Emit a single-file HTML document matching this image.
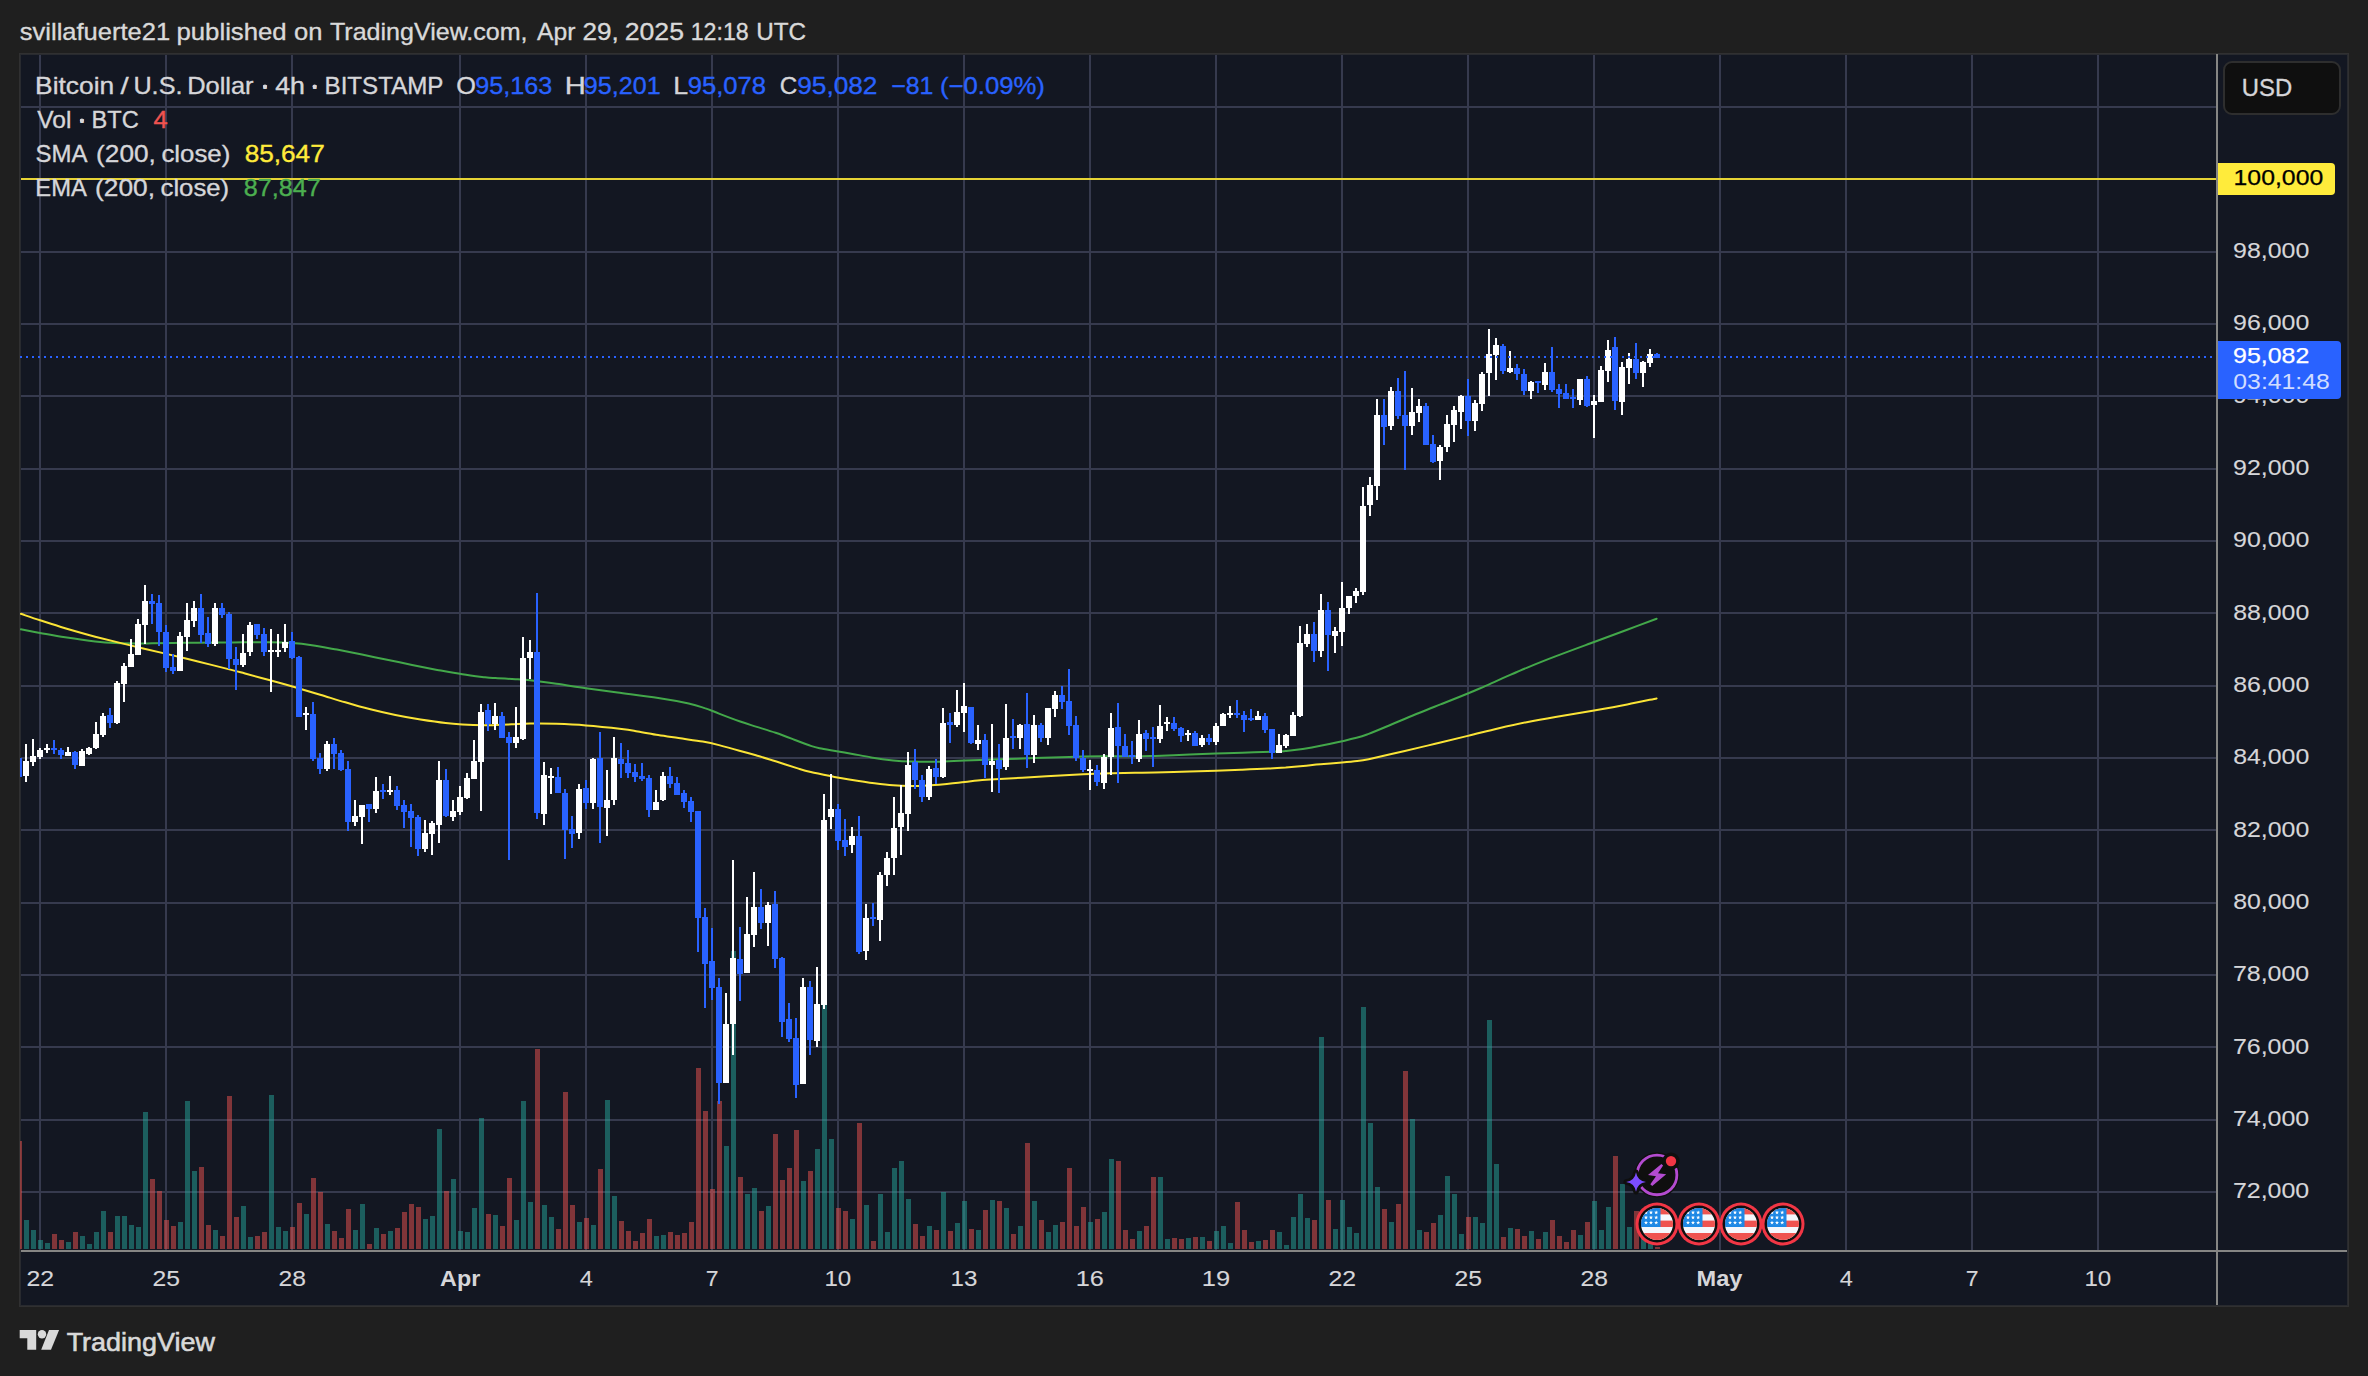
<!DOCTYPE html>
<html><head><meta charset="utf-8"><title>BTCUSD chart</title>
<style>html,body{margin:0;padding:0;background:#1f1f1f;}body{width:2368px;height:1376px;position:relative;overflow:hidden;font-family:"Liberation Sans",sans-serif}</style>
</head><body>
<svg width="2368" height="1376" viewBox="0 0 2368 1376" style="position:absolute;left:0;top:0" font-family="Liberation Sans, sans-serif">
<defs><clipPath id="cp"><rect x="20" y="55" width="2196" height="1195"/></clipPath>
<clipPath id="fc"><circle cx="0" cy="0" r="16"/></clipPath></defs>
<rect x="19.5" y="53.5" width="2329" height="1253" fill="#131722" stroke="#303031" stroke-width="1"/>
<rect x="20.5" y="54.5" width="2327" height="1251" fill="none" stroke="#282a2f" stroke-width="1"/>
<g fill="#363a4e" shape-rendering="crispEdges">
<rect x="39" y="55" width="2" height="1195"/>
<rect x="165" y="55" width="2" height="1195"/>
<rect x="291" y="55" width="2" height="1195"/>
<rect x="459" y="55" width="2" height="1195"/>
<rect x="585" y="55" width="2" height="1195"/>
<rect x="711" y="55" width="2" height="1195"/>
<rect x="837" y="55" width="2" height="1195"/>
<rect x="963" y="55" width="2" height="1195"/>
<rect x="1089" y="55" width="2" height="1195"/>
<rect x="1215" y="55" width="2" height="1195"/>
<rect x="1341" y="55" width="2" height="1195"/>
<rect x="1467" y="55" width="2" height="1195"/>
<rect x="1593" y="55" width="2" height="1195"/>
<rect x="1719" y="55" width="2" height="1195"/>
<rect x="1845" y="55" width="2" height="1195"/>
<rect x="1971" y="55" width="2" height="1195"/>
<rect x="2097" y="55" width="2" height="1195"/>
<rect x="21" y="106" width="2195" height="2"/>
<rect x="21" y="178" width="2195" height="2"/>
<rect x="21" y="251" width="2195" height="2"/>
<rect x="21" y="323" width="2195" height="2"/>
<rect x="21" y="395" width="2195" height="2"/>
<rect x="21" y="468" width="2195" height="2"/>
<rect x="21" y="540" width="2195" height="2"/>
<rect x="21" y="612" width="2195" height="2"/>
<rect x="21" y="685" width="2195" height="2"/>
<rect x="21" y="757" width="2195" height="2"/>
<rect x="21" y="829" width="2195" height="2"/>
<rect x="21" y="902" width="2195" height="2"/>
<rect x="21" y="974" width="2195" height="2"/>
<rect x="21" y="1046" width="2195" height="2"/>
<rect x="21" y="1119" width="2195" height="2"/>
<rect x="21" y="1191" width="2195" height="2"/>
</g>
<g clip-path="url(#cp)">
<g shape-rendering="crispEdges">
<rect x="17" y="1141" width="5" height="108" fill="rgba(239,83,80,0.5)"/>
<rect x="24" y="1220" width="5" height="29" fill="rgba(38,166,154,0.5)"/>
<rect x="31" y="1230" width="5" height="19" fill="rgba(38,166,154,0.5)"/>
<rect x="38" y="1240" width="5" height="9" fill="rgba(38,166,154,0.5)"/>
<rect x="45" y="1243" width="5" height="6" fill="rgba(38,166,154,0.5)"/>
<rect x="52" y="1234" width="5" height="15" fill="rgba(239,83,80,0.5)"/>
<rect x="59" y="1240" width="5" height="9" fill="rgba(239,83,80,0.5)"/>
<rect x="66" y="1242" width="5" height="7" fill="rgba(38,166,154,0.5)"/>
<rect x="73" y="1232" width="5" height="17" fill="rgba(239,83,80,0.5)"/>
<rect x="80" y="1236" width="5" height="13" fill="rgba(38,166,154,0.5)"/>
<rect x="87" y="1244" width="5" height="5" fill="rgba(38,166,154,0.5)"/>
<rect x="94" y="1232" width="5" height="17" fill="rgba(38,166,154,0.5)"/>
<rect x="101" y="1211" width="5" height="38" fill="rgba(38,166,154,0.5)"/>
<rect x="108" y="1232" width="5" height="17" fill="rgba(239,83,80,0.5)"/>
<rect x="115" y="1216" width="5" height="33" fill="rgba(38,166,154,0.5)"/>
<rect x="122" y="1216" width="5" height="33" fill="rgba(38,166,154,0.5)"/>
<rect x="129" y="1225" width="5" height="24" fill="rgba(38,166,154,0.5)"/>
<rect x="136" y="1227" width="5" height="22" fill="rgba(38,166,154,0.5)"/>
<rect x="143" y="1112" width="5" height="137" fill="rgba(38,166,154,0.5)"/>
<rect x="150" y="1179" width="5" height="70" fill="rgba(239,83,80,0.5)"/>
<rect x="157" y="1191" width="5" height="58" fill="rgba(239,83,80,0.5)"/>
<rect x="164" y="1220" width="5" height="29" fill="rgba(239,83,80,0.5)"/>
<rect x="171" y="1226" width="5" height="23" fill="rgba(239,83,80,0.5)"/>
<rect x="178" y="1222" width="5" height="27" fill="rgba(38,166,154,0.5)"/>
<rect x="185" y="1101" width="5" height="148" fill="rgba(38,166,154,0.5)"/>
<rect x="192" y="1171" width="5" height="78" fill="rgba(38,166,154,0.5)"/>
<rect x="199" y="1167" width="5" height="82" fill="rgba(239,83,80,0.5)"/>
<rect x="206" y="1225" width="5" height="24" fill="rgba(239,83,80,0.5)"/>
<rect x="213" y="1230" width="5" height="19" fill="rgba(38,166,154,0.5)"/>
<rect x="220" y="1236" width="5" height="13" fill="rgba(239,83,80,0.5)"/>
<rect x="227" y="1096" width="5" height="153" fill="rgba(239,83,80,0.5)"/>
<rect x="234" y="1217" width="5" height="32" fill="rgba(239,83,80,0.5)"/>
<rect x="241" y="1206" width="5" height="43" fill="rgba(38,166,154,0.5)"/>
<rect x="248" y="1237" width="5" height="12" fill="rgba(38,166,154,0.5)"/>
<rect x="255" y="1236" width="5" height="13" fill="rgba(239,83,80,0.5)"/>
<rect x="262" y="1232" width="5" height="17" fill="rgba(239,83,80,0.5)"/>
<rect x="269" y="1095" width="5" height="154" fill="rgba(38,166,154,0.5)"/>
<rect x="276" y="1227" width="5" height="22" fill="rgba(38,166,154,0.5)"/>
<rect x="283" y="1231" width="5" height="18" fill="rgba(38,166,154,0.5)"/>
<rect x="290" y="1227" width="5" height="22" fill="rgba(239,83,80,0.5)"/>
<rect x="297" y="1203" width="5" height="46" fill="rgba(239,83,80,0.5)"/>
<rect x="304" y="1214" width="5" height="35" fill="rgba(38,166,154,0.5)"/>
<rect x="311" y="1178" width="5" height="71" fill="rgba(239,83,80,0.5)"/>
<rect x="318" y="1192" width="5" height="57" fill="rgba(239,83,80,0.5)"/>
<rect x="325" y="1224" width="5" height="25" fill="rgba(38,166,154,0.5)"/>
<rect x="332" y="1231" width="5" height="18" fill="rgba(239,83,80,0.5)"/>
<rect x="339" y="1238" width="5" height="11" fill="rgba(239,83,80,0.5)"/>
<rect x="346" y="1209" width="5" height="40" fill="rgba(239,83,80,0.5)"/>
<rect x="353" y="1230" width="5" height="19" fill="rgba(38,166,154,0.5)"/>
<rect x="360" y="1204" width="5" height="45" fill="rgba(38,166,154,0.5)"/>
<rect x="367" y="1244" width="5" height="5" fill="rgba(239,83,80,0.5)"/>
<rect x="374" y="1228" width="5" height="21" fill="rgba(38,166,154,0.5)"/>
<rect x="381" y="1234" width="5" height="15" fill="rgba(239,83,80,0.5)"/>
<rect x="388" y="1231" width="5" height="18" fill="rgba(38,166,154,0.5)"/>
<rect x="395" y="1228" width="5" height="21" fill="rgba(239,83,80,0.5)"/>
<rect x="402" y="1212" width="5" height="37" fill="rgba(239,83,80,0.5)"/>
<rect x="409" y="1204" width="5" height="45" fill="rgba(239,83,80,0.5)"/>
<rect x="416" y="1207" width="5" height="42" fill="rgba(239,83,80,0.5)"/>
<rect x="423" y="1219" width="5" height="30" fill="rgba(38,166,154,0.5)"/>
<rect x="430" y="1216" width="5" height="33" fill="rgba(38,166,154,0.5)"/>
<rect x="437" y="1129" width="5" height="120" fill="rgba(38,166,154,0.5)"/>
<rect x="444" y="1191" width="5" height="58" fill="rgba(239,83,80,0.5)"/>
<rect x="451" y="1179" width="5" height="70" fill="rgba(38,166,154,0.5)"/>
<rect x="458" y="1231" width="5" height="18" fill="rgba(38,166,154,0.5)"/>
<rect x="465" y="1232" width="5" height="17" fill="rgba(38,166,154,0.5)"/>
<rect x="472" y="1208" width="5" height="41" fill="rgba(38,166,154,0.5)"/>
<rect x="479" y="1118" width="5" height="131" fill="rgba(38,166,154,0.5)"/>
<rect x="486" y="1214" width="5" height="35" fill="rgba(239,83,80,0.5)"/>
<rect x="493" y="1215" width="5" height="34" fill="rgba(38,166,154,0.5)"/>
<rect x="500" y="1226" width="5" height="23" fill="rgba(239,83,80,0.5)"/>
<rect x="507" y="1178" width="5" height="71" fill="rgba(239,83,80,0.5)"/>
<rect x="514" y="1220" width="5" height="29" fill="rgba(38,166,154,0.5)"/>
<rect x="521" y="1101" width="5" height="148" fill="rgba(38,166,154,0.5)"/>
<rect x="528" y="1202" width="5" height="47" fill="rgba(38,166,154,0.5)"/>
<rect x="535" y="1049" width="5" height="200" fill="rgba(239,83,80,0.5)"/>
<rect x="542" y="1205" width="5" height="44" fill="rgba(38,166,154,0.5)"/>
<rect x="549" y="1217" width="5" height="32" fill="rgba(38,166,154,0.5)"/>
<rect x="556" y="1229" width="5" height="20" fill="rgba(239,83,80,0.5)"/>
<rect x="563" y="1092" width="5" height="157" fill="rgba(239,83,80,0.5)"/>
<rect x="570" y="1205" width="5" height="44" fill="rgba(239,83,80,0.5)"/>
<rect x="577" y="1222" width="5" height="27" fill="rgba(38,166,154,0.5)"/>
<rect x="584" y="1218" width="5" height="31" fill="rgba(239,83,80,0.5)"/>
<rect x="591" y="1225" width="5" height="24" fill="rgba(38,166,154,0.5)"/>
<rect x="598" y="1169" width="5" height="80" fill="rgba(239,83,80,0.5)"/>
<rect x="605" y="1100" width="5" height="149" fill="rgba(38,166,154,0.5)"/>
<rect x="612" y="1196" width="5" height="53" fill="rgba(38,166,154,0.5)"/>
<rect x="619" y="1221" width="5" height="28" fill="rgba(239,83,80,0.5)"/>
<rect x="626" y="1231" width="5" height="18" fill="rgba(239,83,80,0.5)"/>
<rect x="633" y="1241" width="5" height="8" fill="rgba(239,83,80,0.5)"/>
<rect x="640" y="1233" width="5" height="16" fill="rgba(239,83,80,0.5)"/>
<rect x="647" y="1219" width="5" height="30" fill="rgba(239,83,80,0.5)"/>
<rect x="654" y="1236" width="5" height="13" fill="rgba(38,166,154,0.5)"/>
<rect x="661" y="1235" width="5" height="14" fill="rgba(38,166,154,0.5)"/>
<rect x="668" y="1232" width="5" height="17" fill="rgba(239,83,80,0.5)"/>
<rect x="675" y="1235" width="5" height="14" fill="rgba(239,83,80,0.5)"/>
<rect x="682" y="1233" width="5" height="16" fill="rgba(239,83,80,0.5)"/>
<rect x="689" y="1222" width="5" height="27" fill="rgba(239,83,80,0.5)"/>
<rect x="696" y="1068" width="5" height="181" fill="rgba(239,83,80,0.5)"/>
<rect x="703" y="1111" width="5" height="138" fill="rgba(239,83,80,0.5)"/>
<rect x="710" y="1189" width="5" height="60" fill="rgba(239,83,80,0.5)"/>
<rect x="717" y="1101" width="5" height="148" fill="rgba(239,83,80,0.5)"/>
<rect x="724" y="1146" width="5" height="103" fill="rgba(38,166,154,0.5)"/>
<rect x="731" y="951" width="5" height="298" fill="rgba(38,166,154,0.5)"/>
<rect x="738" y="1177" width="5" height="72" fill="rgba(239,83,80,0.5)"/>
<rect x="745" y="1194" width="5" height="55" fill="rgba(38,166,154,0.5)"/>
<rect x="752" y="1188" width="5" height="61" fill="rgba(38,166,154,0.5)"/>
<rect x="759" y="1211" width="5" height="38" fill="rgba(239,83,80,0.5)"/>
<rect x="766" y="1206" width="5" height="43" fill="rgba(38,166,154,0.5)"/>
<rect x="773" y="1134" width="5" height="115" fill="rgba(239,83,80,0.5)"/>
<rect x="780" y="1180" width="5" height="69" fill="rgba(239,83,80,0.5)"/>
<rect x="787" y="1168" width="5" height="81" fill="rgba(239,83,80,0.5)"/>
<rect x="794" y="1130" width="5" height="119" fill="rgba(239,83,80,0.5)"/>
<rect x="801" y="1181" width="5" height="68" fill="rgba(38,166,154,0.5)"/>
<rect x="808" y="1171" width="5" height="78" fill="rgba(239,83,80,0.5)"/>
<rect x="815" y="1149" width="5" height="100" fill="rgba(38,166,154,0.5)"/>
<rect x="822" y="1005" width="5" height="244" fill="rgba(38,166,154,0.5)"/>
<rect x="829" y="1139" width="5" height="110" fill="rgba(38,166,154,0.5)"/>
<rect x="836" y="1208" width="5" height="41" fill="rgba(239,83,80,0.5)"/>
<rect x="843" y="1211" width="5" height="38" fill="rgba(239,83,80,0.5)"/>
<rect x="850" y="1219" width="5" height="30" fill="rgba(38,166,154,0.5)"/>
<rect x="857" y="1123" width="5" height="126" fill="rgba(239,83,80,0.5)"/>
<rect x="864" y="1205" width="5" height="44" fill="rgba(38,166,154,0.5)"/>
<rect x="871" y="1241" width="5" height="8" fill="rgba(239,83,80,0.5)"/>
<rect x="878" y="1194" width="5" height="55" fill="rgba(38,166,154,0.5)"/>
<rect x="885" y="1232" width="5" height="17" fill="rgba(38,166,154,0.5)"/>
<rect x="892" y="1168" width="5" height="81" fill="rgba(38,166,154,0.5)"/>
<rect x="899" y="1161" width="5" height="88" fill="rgba(38,166,154,0.5)"/>
<rect x="906" y="1199" width="5" height="50" fill="rgba(38,166,154,0.5)"/>
<rect x="913" y="1224" width="5" height="25" fill="rgba(239,83,80,0.5)"/>
<rect x="920" y="1236" width="5" height="13" fill="rgba(239,83,80,0.5)"/>
<rect x="927" y="1226" width="5" height="23" fill="rgba(38,166,154,0.5)"/>
<rect x="934" y="1230" width="5" height="19" fill="rgba(239,83,80,0.5)"/>
<rect x="941" y="1192" width="5" height="57" fill="rgba(38,166,154,0.5)"/>
<rect x="948" y="1231" width="5" height="18" fill="rgba(239,83,80,0.5)"/>
<rect x="955" y="1223" width="5" height="26" fill="rgba(38,166,154,0.5)"/>
<rect x="962" y="1201" width="5" height="48" fill="rgba(38,166,154,0.5)"/>
<rect x="969" y="1229" width="5" height="20" fill="rgba(239,83,80,0.5)"/>
<rect x="976" y="1230" width="5" height="19" fill="rgba(38,166,154,0.5)"/>
<rect x="983" y="1210" width="5" height="39" fill="rgba(239,83,80,0.5)"/>
<rect x="990" y="1200" width="5" height="49" fill="rgba(38,166,154,0.5)"/>
<rect x="997" y="1201" width="5" height="48" fill="rgba(239,83,80,0.5)"/>
<rect x="1004" y="1208" width="5" height="41" fill="rgba(38,166,154,0.5)"/>
<rect x="1011" y="1234" width="5" height="15" fill="rgba(239,83,80,0.5)"/>
<rect x="1018" y="1226" width="5" height="23" fill="rgba(38,166,154,0.5)"/>
<rect x="1025" y="1143" width="5" height="106" fill="rgba(239,83,80,0.5)"/>
<rect x="1032" y="1201" width="5" height="48" fill="rgba(38,166,154,0.5)"/>
<rect x="1039" y="1220" width="5" height="29" fill="rgba(239,83,80,0.5)"/>
<rect x="1046" y="1232" width="5" height="17" fill="rgba(38,166,154,0.5)"/>
<rect x="1053" y="1225" width="5" height="24" fill="rgba(38,166,154,0.5)"/>
<rect x="1060" y="1222" width="5" height="27" fill="rgba(239,83,80,0.5)"/>
<rect x="1067" y="1168" width="5" height="81" fill="rgba(239,83,80,0.5)"/>
<rect x="1074" y="1226" width="5" height="23" fill="rgba(239,83,80,0.5)"/>
<rect x="1081" y="1207" width="5" height="42" fill="rgba(239,83,80,0.5)"/>
<rect x="1088" y="1222" width="5" height="27" fill="rgba(38,166,154,0.5)"/>
<rect x="1095" y="1219" width="5" height="30" fill="rgba(239,83,80,0.5)"/>
<rect x="1102" y="1212" width="5" height="37" fill="rgba(38,166,154,0.5)"/>
<rect x="1109" y="1159" width="5" height="90" fill="rgba(38,166,154,0.5)"/>
<rect x="1116" y="1161" width="5" height="88" fill="rgba(239,83,80,0.5)"/>
<rect x="1123" y="1230" width="5" height="19" fill="rgba(239,83,80,0.5)"/>
<rect x="1130" y="1239" width="5" height="10" fill="rgba(239,83,80,0.5)"/>
<rect x="1137" y="1231" width="5" height="18" fill="rgba(38,166,154,0.5)"/>
<rect x="1144" y="1226" width="5" height="23" fill="rgba(239,83,80,0.5)"/>
<rect x="1151" y="1177" width="5" height="72" fill="rgba(239,83,80,0.5)"/>
<rect x="1158" y="1177" width="5" height="72" fill="rgba(38,166,154,0.5)"/>
<rect x="1165" y="1239" width="5" height="10" fill="rgba(38,166,154,0.5)"/>
<rect x="1172" y="1238" width="5" height="11" fill="rgba(239,83,80,0.5)"/>
<rect x="1179" y="1239" width="5" height="10" fill="rgba(239,83,80,0.5)"/>
<rect x="1186" y="1238" width="5" height="11" fill="rgba(38,166,154,0.5)"/>
<rect x="1193" y="1237" width="5" height="12" fill="rgba(239,83,80,0.5)"/>
<rect x="1200" y="1237" width="5" height="12" fill="rgba(38,166,154,0.5)"/>
<rect x="1207" y="1241" width="5" height="8" fill="rgba(239,83,80,0.5)"/>
<rect x="1214" y="1231" width="5" height="18" fill="rgba(38,166,154,0.5)"/>
<rect x="1221" y="1226" width="5" height="23" fill="rgba(38,166,154,0.5)"/>
<rect x="1228" y="1243" width="5" height="6" fill="rgba(38,166,154,0.5)"/>
<rect x="1235" y="1202" width="5" height="47" fill="rgba(239,83,80,0.5)"/>
<rect x="1242" y="1230" width="5" height="19" fill="rgba(239,83,80,0.5)"/>
<rect x="1249" y="1242" width="5" height="7" fill="rgba(239,83,80,0.5)"/>
<rect x="1256" y="1241" width="5" height="8" fill="rgba(38,166,154,0.5)"/>
<rect x="1263" y="1240" width="5" height="9" fill="rgba(239,83,80,0.5)"/>
<rect x="1270" y="1230" width="5" height="19" fill="rgba(239,83,80,0.5)"/>
<rect x="1277" y="1232" width="5" height="17" fill="rgba(38,166,154,0.5)"/>
<rect x="1284" y="1245" width="5" height="4" fill="rgba(38,166,154,0.5)"/>
<rect x="1291" y="1217" width="5" height="32" fill="rgba(38,166,154,0.5)"/>
<rect x="1298" y="1194" width="5" height="55" fill="rgba(38,166,154,0.5)"/>
<rect x="1305" y="1218" width="5" height="31" fill="rgba(38,166,154,0.5)"/>
<rect x="1312" y="1220" width="5" height="29" fill="rgba(239,83,80,0.5)"/>
<rect x="1319" y="1037" width="5" height="212" fill="rgba(38,166,154,0.5)"/>
<rect x="1326" y="1200" width="5" height="49" fill="rgba(239,83,80,0.5)"/>
<rect x="1333" y="1229" width="5" height="20" fill="rgba(38,166,154,0.5)"/>
<rect x="1340" y="1200" width="5" height="49" fill="rgba(38,166,154,0.5)"/>
<rect x="1347" y="1227" width="5" height="22" fill="rgba(38,166,154,0.5)"/>
<rect x="1354" y="1233" width="5" height="16" fill="rgba(38,166,154,0.5)"/>
<rect x="1361" y="1007" width="5" height="242" fill="rgba(38,166,154,0.5)"/>
<rect x="1368" y="1123" width="5" height="126" fill="rgba(38,166,154,0.5)"/>
<rect x="1375" y="1187" width="5" height="62" fill="rgba(38,166,154,0.5)"/>
<rect x="1382" y="1209" width="5" height="40" fill="rgba(239,83,80,0.5)"/>
<rect x="1389" y="1222" width="5" height="27" fill="rgba(38,166,154,0.5)"/>
<rect x="1396" y="1204" width="5" height="45" fill="rgba(239,83,80,0.5)"/>
<rect x="1403" y="1071" width="5" height="178" fill="rgba(239,83,80,0.5)"/>
<rect x="1410" y="1119" width="5" height="130" fill="rgba(38,166,154,0.5)"/>
<rect x="1417" y="1230" width="5" height="19" fill="rgba(38,166,154,0.5)"/>
<rect x="1424" y="1232" width="5" height="17" fill="rgba(239,83,80,0.5)"/>
<rect x="1431" y="1223" width="5" height="26" fill="rgba(239,83,80,0.5)"/>
<rect x="1438" y="1215" width="5" height="34" fill="rgba(38,166,154,0.5)"/>
<rect x="1445" y="1176" width="5" height="73" fill="rgba(38,166,154,0.5)"/>
<rect x="1452" y="1194" width="5" height="55" fill="rgba(38,166,154,0.5)"/>
<rect x="1459" y="1234" width="5" height="15" fill="rgba(38,166,154,0.5)"/>
<rect x="1466" y="1217" width="5" height="32" fill="rgba(239,83,80,0.5)"/>
<rect x="1473" y="1217" width="5" height="32" fill="rgba(38,166,154,0.5)"/>
<rect x="1480" y="1223" width="5" height="26" fill="rgba(38,166,154,0.5)"/>
<rect x="1487" y="1020" width="5" height="229" fill="rgba(38,166,154,0.5)"/>
<rect x="1494" y="1164" width="5" height="85" fill="rgba(38,166,154,0.5)"/>
<rect x="1501" y="1237" width="5" height="12" fill="rgba(239,83,80,0.5)"/>
<rect x="1508" y="1228" width="5" height="21" fill="rgba(38,166,154,0.5)"/>
<rect x="1515" y="1229" width="5" height="20" fill="rgba(239,83,80,0.5)"/>
<rect x="1522" y="1236" width="5" height="13" fill="rgba(239,83,80,0.5)"/>
<rect x="1529" y="1231" width="5" height="18" fill="rgba(38,166,154,0.5)"/>
<rect x="1536" y="1239" width="5" height="10" fill="rgba(239,83,80,0.5)"/>
<rect x="1543" y="1232" width="5" height="17" fill="rgba(38,166,154,0.5)"/>
<rect x="1550" y="1220" width="5" height="29" fill="rgba(239,83,80,0.5)"/>
<rect x="1557" y="1236" width="5" height="13" fill="rgba(239,83,80,0.5)"/>
<rect x="1564" y="1242" width="5" height="7" fill="rgba(239,83,80,0.5)"/>
<rect x="1571" y="1230" width="5" height="19" fill="rgba(239,83,80,0.5)"/>
<rect x="1578" y="1235" width="5" height="14" fill="rgba(38,166,154,0.5)"/>
<rect x="1585" y="1222" width="5" height="27" fill="rgba(239,83,80,0.5)"/>
<rect x="1592" y="1201" width="5" height="48" fill="rgba(38,166,154,0.5)"/>
<rect x="1599" y="1230" width="5" height="19" fill="rgba(38,166,154,0.5)"/>
<rect x="1606" y="1207" width="5" height="42" fill="rgba(38,166,154,0.5)"/>
<rect x="1613" y="1156" width="5" height="93" fill="rgba(239,83,80,0.5)"/>
<rect x="1620" y="1184" width="5" height="65" fill="rgba(38,166,154,0.5)"/>
<rect x="1627" y="1227" width="5" height="22" fill="rgba(38,166,154,0.5)"/>
<rect x="1634" y="1211" width="5" height="38" fill="rgba(239,83,80,0.5)"/>
<rect x="1641" y="1229" width="5" height="20" fill="rgba(38,166,154,0.5)"/>
<rect x="1648" y="1235" width="5" height="14" fill="rgba(38,166,154,0.5)"/>
<rect x="1655" y="1247" width="5" height="2" fill="rgba(239,83,80,0.5)"/>
</g>
<rect x="21" y="178" width="2195" height="2" fill="#e6d335" shape-rendering="crispEdges"/>
<path d="M20.8,629.3C24.1,629.9 32.7,631.6 40.1,633.0C47.5,634.3 55.9,635.9 65.1,637.3C74.3,638.7 86.9,640.5 95.2,641.4C103.6,642.4 107.8,642.7 115.3,643.0C122.8,643.3 134.2,643.4 140.4,643.4C146.5,643.5 145.1,643.4 152.1,643.3C159.0,643.2 171.6,642.9 182.1,642.8C192.7,642.7 205.5,642.6 215.6,642.5C225.7,642.4 233.7,642.4 242.8,642.3C251.9,642.3 261.8,642.2 270.1,642.3C278.3,642.4 285.3,642.6 292.3,643.1C299.3,643.6 304.4,644.2 311.9,645.3C319.3,646.3 328.6,648.1 336.9,649.6C345.3,651.2 353.6,652.9 362.0,654.6C370.4,656.3 378.7,658.0 387.1,659.7C395.4,661.4 403.8,663.2 412.1,664.9C420.5,666.6 428.9,668.3 437.2,669.9C445.6,671.4 454.3,673.0 462.3,674.2C470.2,675.5 479.5,676.6 485.0,677.3C490.5,677.9 489.9,677.8 495.4,678.1C500.8,678.5 512.0,679.0 517.7,679.3C523.5,679.7 523.5,679.6 530.0,680.3C536.4,681.1 547.1,682.5 556.4,683.8C565.8,685.1 575.8,686.8 585.9,688.2C596.1,689.7 605.4,690.9 617.5,692.6C629.5,694.2 646.3,696.2 658.2,698.0C670.1,699.8 681.0,701.8 688.7,703.4C696.5,705.1 699.7,706.4 704.7,708.1C709.8,709.7 713.2,711.4 719.0,713.6C724.7,715.8 733.3,719.1 739.4,721.3C745.6,723.5 749.8,724.7 755.9,726.6C761.9,728.5 769.2,730.6 775.6,732.8C782.0,735.0 788.5,737.5 794.3,739.7C800.2,741.9 806.6,744.5 810.8,745.9C815.0,747.3 815.0,747.3 819.6,748.2C824.1,749.2 832.7,750.4 838.2,751.4C843.7,752.3 847.0,752.9 852.5,753.9C858.0,754.9 864.4,756.3 871.2,757.4C877.9,758.5 886.5,759.7 893.1,760.4C899.8,761.1 904.8,761.4 911.0,761.6C917.3,761.8 924.4,761.8 930.7,761.8C937.0,761.7 943.0,761.4 948.7,761.2C954.3,761.0 956.3,760.9 964.8,760.6C973.3,760.2 988.0,759.7 999.7,759.3C1011.3,758.9 1022.9,758.5 1034.5,758.1C1046.2,757.7 1057.8,757.2 1069.4,756.9C1081.0,756.6 1093.4,756.4 1104.3,756.3C1115.2,756.2 1126.6,756.3 1135.0,756.2C1143.4,756.2 1145.8,756.1 1154.9,755.9C1164.0,755.6 1179.6,755.0 1189.8,754.6C1199.9,754.3 1207.2,754.0 1215.9,753.6C1224.7,753.3 1232.8,753.0 1242.1,752.7C1251.4,752.4 1264.5,752.0 1271.7,751.7C1279.0,751.4 1281.9,751.3 1285.7,751.0C1289.5,750.8 1290.1,750.8 1294.4,750.1C1298.8,749.5 1306.0,748.4 1311.9,747.4C1317.7,746.4 1321.9,745.7 1329.3,744.1C1336.7,742.5 1349.9,739.5 1356.5,737.8C1363.1,736.1 1363.1,736.0 1368.7,733.9C1374.3,731.7 1381.9,728.5 1390.3,725.0C1398.6,721.6 1410.6,716.4 1419.0,713.0C1427.3,709.5 1432.4,707.6 1440.5,704.4C1448.6,701.2 1460.6,696.5 1467.8,693.5C1475.0,690.6 1477.8,689.3 1483.6,686.8C1489.3,684.3 1495.1,681.6 1502.2,678.4C1509.4,675.3 1517.8,671.5 1526.7,667.8C1535.5,664.2 1544.1,660.7 1555.4,656.4C1566.6,652.1 1582.2,646.4 1594.1,642.0C1606.1,637.6 1616.8,633.7 1627.2,629.8C1637.6,625.9 1651.7,620.5 1656.6,618.7" fill="none" stroke="#43a84a" stroke-width="2" stroke-linecap="round" stroke-linejoin="round"/>
<path d="M20.8,613.8C24.1,614.9 32.7,617.9 40.1,620.3C47.5,622.7 55.9,625.5 65.1,628.2C74.3,630.9 84.4,633.8 95.2,636.7C106.1,639.5 118.5,642.5 130.3,645.4C142.2,648.3 155.0,651.2 166.4,653.9C177.9,656.6 187.9,659.0 198.9,661.7C209.8,664.4 224.6,668.2 232.3,670.1C240.0,672.1 238.7,671.8 245.0,673.5C251.3,675.2 261.7,678.0 270.1,680.3C278.4,682.6 286.8,684.9 295.1,687.3C303.5,689.7 311.9,692.2 320.2,694.7C328.6,697.2 336.9,699.9 345.3,702.3C353.6,704.8 362.0,707.2 370.4,709.3C378.7,711.4 387.1,713.3 395.4,715.0C403.8,716.7 412.1,718.2 420.5,719.6C428.9,720.9 438.6,722.3 445.6,723.1C452.5,723.9 455.7,724.1 462.3,724.5C468.9,724.8 479.5,725.1 485.0,725.2C490.5,725.3 490.9,725.2 495.4,725.1C499.8,724.9 505.9,724.6 511.6,724.3C517.4,724.1 522.5,723.7 530.0,723.6C537.4,723.5 547.1,723.5 556.4,723.8C565.8,724.1 575.1,724.5 585.9,725.4C596.8,726.2 612.9,727.9 621.6,728.9C630.2,729.9 631.7,730.4 637.8,731.5C644.0,732.5 651.4,734.0 658.2,735.1C665.0,736.2 671.1,737.0 678.6,738.1C686.0,739.2 696.0,740.5 702.7,741.6C709.4,742.8 712.9,743.6 719.0,745.1C725.1,746.6 733.3,748.9 739.4,750.7C745.6,752.4 749.8,753.6 755.9,755.3C761.9,757.1 768.7,759.1 775.6,761.3C782.6,763.5 791.9,766.6 797.7,768.4C803.6,770.2 804.7,770.6 810.8,772.0C816.9,773.4 828.0,775.6 834.4,776.9C840.8,778.1 842.5,778.4 849.2,779.4C855.9,780.5 867.1,782.3 874.5,783.2C881.8,784.2 887.3,784.9 893.1,785.3C898.9,785.7 903.4,785.9 909.2,785.9C915.0,785.9 921.4,785.7 928.0,785.4C934.5,785.0 942.5,784.3 948.7,783.8C954.8,783.2 959.2,782.6 964.8,782.0C970.4,781.4 976.4,780.6 982.2,780.1C988.0,779.6 990.9,779.4 999.7,778.9C1008.4,778.4 1022.9,777.6 1034.5,777.0C1046.2,776.3 1060.1,775.5 1069.4,775.0C1078.7,774.5 1083.1,774.3 1090.3,773.9C1097.6,773.6 1105.6,773.4 1113.0,773.2C1120.5,773.0 1128.0,772.9 1135.0,772.8C1142.0,772.7 1145.8,772.7 1154.9,772.5C1164.0,772.3 1179.6,771.8 1189.8,771.5C1199.9,771.2 1207.2,771.0 1215.9,770.7C1224.7,770.4 1233.4,770.1 1242.1,769.7C1250.8,769.4 1261.0,769.0 1268.3,768.6C1275.5,768.2 1279.9,767.9 1285.7,767.5C1291.5,767.0 1297.3,766.4 1303.1,765.9C1309.0,765.4 1314.1,764.8 1320.6,764.3C1327.1,763.7 1335.9,763.0 1342.0,762.5C1348.1,762.0 1352.7,761.6 1357.2,761.0C1361.6,760.5 1363.2,760.3 1368.7,759.2C1374.2,758.0 1381.9,756.3 1390.3,754.3C1398.6,752.4 1410.6,749.5 1419.0,747.6C1427.3,745.6 1432.4,744.5 1440.5,742.5C1448.6,740.6 1458.2,738.3 1467.8,735.9C1477.4,733.6 1488.1,730.8 1497.9,728.5C1507.8,726.2 1517.1,724.1 1526.7,722.2C1536.2,720.3 1544.1,718.9 1555.4,717.0C1566.6,715.0 1582.2,712.6 1594.1,710.5C1606.1,708.4 1616.8,706.5 1627.2,704.5C1637.6,702.5 1651.7,699.4 1656.6,698.4" fill="none" stroke="#fbe436" stroke-width="2" stroke-linecap="round" stroke-linejoin="round"/>
<g fill="#2962ff" shape-rendering="crispEdges"><rect x="53" y="740" width="2" height="14"/><rect x="51" y="748" width="6" height="2"/><rect x="60" y="748" width="2" height="11"/><rect x="58" y="750" width="6" height="5"/><rect x="74" y="751" width="2" height="18"/><rect x="72" y="752" width="6" height="13"/><rect x="109" y="708" width="2" height="20"/><rect x="107" y="715" width="6" height="8"/><rect x="151" y="594" width="2" height="30"/><rect x="149" y="601" width="6" height="3"/><rect x="158" y="595" width="2" height="51"/><rect x="156" y="603" width="6" height="29"/><rect x="165" y="625" width="2" height="47"/><rect x="163" y="632" width="6" height="36"/><rect x="172" y="654" width="2" height="20"/><rect x="170" y="667" width="6" height="4"/><rect x="200" y="594" width="2" height="49"/><rect x="198" y="608" width="6" height="27"/><rect x="207" y="617" width="2" height="30"/><rect x="205" y="633" width="6" height="11"/><rect x="221" y="603" width="2" height="15"/><rect x="219" y="608" width="6" height="7"/><rect x="228" y="612" width="2" height="57"/><rect x="226" y="614" width="6" height="45"/><rect x="235" y="647" width="2" height="43"/><rect x="233" y="659" width="6" height="6"/><rect x="256" y="624" width="2" height="15"/><rect x="254" y="624" width="6" height="11"/><rect x="263" y="628" width="2" height="28"/><rect x="261" y="634" width="6" height="18"/><rect x="291" y="632" width="2" height="27"/><rect x="289" y="641" width="6" height="17"/><rect x="298" y="656" width="2" height="61"/><rect x="296" y="657" width="6" height="60"/><rect x="312" y="702" width="2" height="59"/><rect x="310" y="714" width="6" height="45"/><rect x="319" y="753" width="2" height="21"/><rect x="317" y="758" width="6" height="11"/><rect x="333" y="738" width="2" height="31"/><rect x="331" y="744" width="6" height="10"/><rect x="340" y="750" width="2" height="21"/><rect x="338" y="753" width="6" height="17"/><rect x="347" y="761" width="2" height="70"/><rect x="345" y="769" width="6" height="53"/><rect x="368" y="804" width="2" height="18"/><rect x="366" y="804" width="6" height="5"/><rect x="382" y="784" width="2" height="15"/><rect x="380" y="790" width="6" height="2"/><rect x="396" y="786" width="2" height="24"/><rect x="394" y="790" width="6" height="16"/><rect x="403" y="800" width="2" height="28"/><rect x="401" y="805" width="6" height="7"/><rect x="410" y="804" width="2" height="43"/><rect x="408" y="811" width="6" height="7"/><rect x="417" y="815" width="2" height="41"/><rect x="415" y="817" width="6" height="32"/><rect x="445" y="769" width="2" height="48"/><rect x="443" y="780" width="6" height="36"/><rect x="487" y="704" width="2" height="27"/><rect x="485" y="710" width="6" height="14"/><rect x="501" y="712" width="2" height="26"/><rect x="499" y="716" width="6" height="22"/><rect x="508" y="732" width="2" height="128"/><rect x="506" y="737" width="6" height="6"/><rect x="536" y="593" width="2" height="226"/><rect x="534" y="652" width="6" height="161"/><rect x="557" y="767" width="2" height="26"/><rect x="555" y="777" width="6" height="16"/><rect x="564" y="789" width="2" height="70"/><rect x="562" y="793" width="6" height="37"/><rect x="571" y="816" width="2" height="32"/><rect x="569" y="829" width="6" height="5"/><rect x="585" y="780" width="2" height="29"/><rect x="583" y="788" width="6" height="15"/><rect x="599" y="732" width="2" height="111"/><rect x="597" y="758" width="6" height="49"/><rect x="620" y="743" width="2" height="35"/><rect x="618" y="759" width="6" height="5"/><rect x="627" y="750" width="2" height="28"/><rect x="625" y="763" width="6" height="10"/><rect x="634" y="764" width="2" height="18"/><rect x="632" y="772" width="6" height="5"/><rect x="641" y="763" width="2" height="18"/><rect x="639" y="776" width="6" height="3"/><rect x="648" y="775" width="2" height="42"/><rect x="646" y="778" width="6" height="32"/><rect x="669" y="767" width="2" height="21"/><rect x="667" y="776" width="6" height="8"/><rect x="676" y="777" width="2" height="18"/><rect x="674" y="783" width="6" height="12"/><rect x="683" y="790" width="2" height="18"/><rect x="681" y="793" width="6" height="9"/><rect x="690" y="797" width="2" height="25"/><rect x="688" y="801" width="6" height="11"/><rect x="697" y="811" width="2" height="141"/><rect x="695" y="811" width="6" height="107"/><rect x="704" y="908" width="2" height="100"/><rect x="702" y="917" width="6" height="47"/><rect x="711" y="928" width="2" height="72"/><rect x="709" y="961" width="6" height="27"/><rect x="718" y="978" width="2" height="126"/><rect x="716" y="987" width="6" height="96"/><rect x="739" y="927" width="2" height="74"/><rect x="737" y="959" width="6" height="15"/><rect x="760" y="889" width="2" height="40"/><rect x="758" y="907" width="6" height="16"/><rect x="774" y="891" width="2" height="77"/><rect x="772" y="904" width="6" height="55"/><rect x="781" y="957" width="2" height="80"/><rect x="779" y="958" width="6" height="64"/><rect x="788" y="1003" width="2" height="39"/><rect x="786" y="1019" width="6" height="20"/><rect x="795" y="1018" width="2" height="80"/><rect x="793" y="1038" width="6" height="47"/><rect x="809" y="981" width="2" height="74"/><rect x="807" y="987" width="6" height="53"/><rect x="837" y="804" width="2" height="46"/><rect x="835" y="809" width="6" height="32"/><rect x="844" y="819" width="2" height="37"/><rect x="842" y="840" width="6" height="7"/><rect x="858" y="816" width="2" height="138"/><rect x="856" y="836" width="6" height="116"/><rect x="872" y="903" width="2" height="23"/><rect x="870" y="917" width="6" height="2"/><rect x="914" y="749" width="2" height="40"/><rect x="912" y="762" width="6" height="18"/><rect x="921" y="775" width="2" height="27"/><rect x="919" y="780" width="6" height="17"/><rect x="935" y="759" width="2" height="25"/><rect x="933" y="768" width="6" height="9"/><rect x="949" y="713" width="2" height="30"/><rect x="947" y="722" width="6" height="3"/><rect x="970" y="707" width="2" height="37"/><rect x="968" y="707" width="6" height="36"/><rect x="984" y="734" width="2" height="44"/><rect x="982" y="740" width="6" height="25"/><rect x="998" y="744" width="2" height="49"/><rect x="996" y="760" width="6" height="9"/><rect x="1012" y="719" width="2" height="30"/><rect x="1010" y="736" width="6" height="2"/><rect x="1026" y="693" width="2" height="75"/><rect x="1024" y="724" width="6" height="31"/><rect x="1040" y="723" width="2" height="19"/><rect x="1038" y="725" width="6" height="13"/><rect x="1061" y="686" width="2" height="23"/><rect x="1059" y="695" width="6" height="7"/><rect x="1068" y="669" width="2" height="66"/><rect x="1066" y="701" width="6" height="25"/><rect x="1075" y="716" width="2" height="45"/><rect x="1073" y="725" width="6" height="33"/><rect x="1082" y="750" width="2" height="22"/><rect x="1080" y="758" width="6" height="12"/><rect x="1096" y="765" width="2" height="21"/><rect x="1094" y="770" width="6" height="12"/><rect x="1117" y="703" width="2" height="80"/><rect x="1115" y="727" width="6" height="19"/><rect x="1124" y="734" width="2" height="23"/><rect x="1122" y="746" width="6" height="11"/><rect x="1131" y="741" width="2" height="23"/><rect x="1129" y="755" width="6" height="2"/><rect x="1145" y="730" width="2" height="21"/><rect x="1143" y="733" width="6" height="6"/><rect x="1152" y="727" width="2" height="40"/><rect x="1150" y="737" width="6" height="2"/><rect x="1173" y="717" width="2" height="14"/><rect x="1171" y="723" width="6" height="6"/><rect x="1180" y="727" width="2" height="15"/><rect x="1178" y="728" width="6" height="8"/><rect x="1194" y="731" width="2" height="15"/><rect x="1192" y="733" width="6" height="13"/><rect x="1208" y="734" width="2" height="11"/><rect x="1206" y="738" width="6" height="4"/><rect x="1236" y="700" width="2" height="18"/><rect x="1234" y="713" width="6" height="2"/><rect x="1243" y="711" width="2" height="21"/><rect x="1241" y="715" width="6" height="5"/><rect x="1250" y="709" width="2" height="12"/><rect x="1248" y="718" width="6" height="2"/><rect x="1264" y="713" width="2" height="20"/><rect x="1262" y="716" width="6" height="14"/><rect x="1271" y="729" width="2" height="30"/><rect x="1269" y="729" width="6" height="24"/><rect x="1313" y="622" width="2" height="40"/><rect x="1311" y="634" width="6" height="17"/><rect x="1327" y="602" width="2" height="69"/><rect x="1325" y="610" width="6" height="25"/><rect x="1383" y="399" width="2" height="46"/><rect x="1381" y="415" width="6" height="12"/><rect x="1397" y="378" width="2" height="41"/><rect x="1395" y="391" width="6" height="25"/><rect x="1404" y="371" width="2" height="99"/><rect x="1402" y="415" width="6" height="11"/><rect x="1425" y="403" width="2" height="42"/><rect x="1423" y="406" width="6" height="39"/><rect x="1432" y="435" width="2" height="28"/><rect x="1430" y="444" width="6" height="18"/><rect x="1467" y="379" width="2" height="57"/><rect x="1465" y="396" width="6" height="25"/><rect x="1502" y="344" width="2" height="30"/><rect x="1500" y="346" width="6" height="25"/><rect x="1516" y="364" width="2" height="16"/><rect x="1514" y="368" width="6" height="6"/><rect x="1523" y="369" width="2" height="26"/><rect x="1521" y="374" width="6" height="17"/><rect x="1537" y="381" width="2" height="12"/><rect x="1535" y="381" width="6" height="2"/><rect x="1551" y="347" width="2" height="45"/><rect x="1549" y="372" width="6" height="18"/><rect x="1558" y="384" width="2" height="24"/><rect x="1556" y="389" width="6" height="5"/><rect x="1565" y="384" width="2" height="15"/><rect x="1563" y="393" width="6" height="6"/><rect x="1572" y="389" width="2" height="19"/><rect x="1570" y="397" width="6" height="2"/><rect x="1586" y="376" width="2" height="31"/><rect x="1584" y="379" width="6" height="27"/><rect x="1614" y="337" width="2" height="73"/><rect x="1612" y="347" width="6" height="54"/><rect x="1635" y="343" width="2" height="36"/><rect x="1633" y="359" width="6" height="14"/><rect x="1656" y="353" width="2" height="5"/><rect x="1654" y="354" width="6" height="4"/><rect x="16" y="758" width="6" height="19"/></g>
<g fill="#ffffff" shape-rendering="crispEdges"><rect x="25" y="744" width="2" height="38"/><rect x="23" y="761" width="6" height="15"/><rect x="32" y="739" width="2" height="27"/><rect x="30" y="756" width="6" height="6"/><rect x="39" y="748" width="2" height="11"/><rect x="37" y="750" width="6" height="7"/><rect x="46" y="744" width="2" height="9"/><rect x="44" y="748" width="6" height="2"/><rect x="67" y="747" width="2" height="9"/><rect x="65" y="752" width="6" height="4"/><rect x="81" y="749" width="2" height="17"/><rect x="79" y="751" width="6" height="15"/><rect x="88" y="747" width="2" height="8"/><rect x="86" y="748" width="6" height="6"/><rect x="95" y="722" width="2" height="27"/><rect x="93" y="734" width="6" height="14"/><rect x="102" y="713" width="2" height="24"/><rect x="100" y="716" width="6" height="19"/><rect x="116" y="681" width="2" height="43"/><rect x="114" y="683" width="6" height="40"/><rect x="123" y="663" width="2" height="39"/><rect x="121" y="666" width="6" height="18"/><rect x="130" y="639" width="2" height="28"/><rect x="128" y="654" width="6" height="13"/><rect x="137" y="619" width="2" height="36"/><rect x="135" y="624" width="6" height="31"/><rect x="144" y="585" width="2" height="59"/><rect x="142" y="601" width="6" height="24"/><rect x="179" y="632" width="2" height="39"/><rect x="177" y="636" width="6" height="35"/><rect x="186" y="603" width="2" height="48"/><rect x="184" y="620" width="6" height="17"/><rect x="193" y="601" width="2" height="26"/><rect x="191" y="608" width="6" height="13"/><rect x="214" y="603" width="2" height="43"/><rect x="212" y="608" width="6" height="36"/><rect x="242" y="634" width="2" height="33"/><rect x="240" y="653" width="6" height="12"/><rect x="249" y="622" width="2" height="34"/><rect x="247" y="625" width="6" height="27"/><rect x="270" y="629" width="2" height="63"/><rect x="268" y="650" width="6" height="2"/><rect x="277" y="634" width="2" height="23"/><rect x="275" y="650" width="6" height="2"/><rect x="284" y="624" width="2" height="28"/><rect x="282" y="642" width="6" height="6"/><rect x="305" y="707" width="2" height="23"/><rect x="303" y="713" width="6" height="2"/><rect x="326" y="741" width="2" height="30"/><rect x="324" y="744" width="6" height="25"/><rect x="354" y="800" width="2" height="26"/><rect x="352" y="816" width="6" height="6"/><rect x="361" y="805" width="2" height="39"/><rect x="359" y="805" width="6" height="12"/><rect x="375" y="777" width="2" height="36"/><rect x="373" y="791" width="6" height="18"/><rect x="389" y="776" width="2" height="19"/><rect x="387" y="790" width="6" height="2"/><rect x="424" y="820" width="2" height="32"/><rect x="422" y="833" width="6" height="16"/><rect x="431" y="821" width="2" height="34"/><rect x="429" y="823" width="6" height="11"/><rect x="438" y="761" width="2" height="82"/><rect x="436" y="780" width="6" height="45"/><rect x="452" y="800" width="2" height="21"/><rect x="450" y="811" width="6" height="6"/><rect x="459" y="786" width="2" height="29"/><rect x="457" y="797" width="6" height="15"/><rect x="466" y="773" width="2" height="26"/><rect x="464" y="778" width="6" height="20"/><rect x="473" y="740" width="2" height="39"/><rect x="471" y="761" width="6" height="18"/><rect x="480" y="704" width="2" height="107"/><rect x="478" y="712" width="6" height="50"/><rect x="494" y="703" width="2" height="27"/><rect x="492" y="716" width="6" height="8"/><rect x="515" y="707" width="2" height="41"/><rect x="513" y="737" width="6" height="6"/><rect x="522" y="637" width="2" height="103"/><rect x="520" y="658" width="6" height="81"/><rect x="529" y="640" width="2" height="39"/><rect x="527" y="652" width="6" height="6"/><rect x="543" y="762" width="2" height="63"/><rect x="541" y="775" width="6" height="39"/><rect x="550" y="768" width="2" height="26"/><rect x="548" y="776" width="6" height="2"/><rect x="578" y="784" width="2" height="55"/><rect x="576" y="789" width="6" height="44"/><rect x="592" y="758" width="2" height="51"/><rect x="590" y="759" width="6" height="44"/><rect x="606" y="770" width="2" height="66"/><rect x="604" y="800" width="6" height="8"/><rect x="613" y="737" width="2" height="68"/><rect x="611" y="758" width="6" height="42"/><rect x="655" y="790" width="2" height="20"/><rect x="653" y="802" width="6" height="8"/><rect x="662" y="772" width="2" height="29"/><rect x="660" y="776" width="6" height="24"/><rect x="725" y="993" width="2" height="90"/><rect x="723" y="1024" width="6" height="59"/><rect x="732" y="860" width="2" height="195"/><rect x="730" y="958" width="6" height="66"/><rect x="746" y="897" width="2" height="76"/><rect x="744" y="934" width="6" height="39"/><rect x="753" y="872" width="2" height="75"/><rect x="751" y="907" width="6" height="28"/><rect x="767" y="902" width="2" height="44"/><rect x="765" y="905" width="6" height="18"/><rect x="802" y="978" width="2" height="106"/><rect x="800" y="987" width="6" height="97"/><rect x="816" y="967" width="2" height="80"/><rect x="814" y="1004" width="6" height="37"/><rect x="823" y="794" width="2" height="215"/><rect x="821" y="820" width="6" height="185"/><rect x="830" y="774" width="2" height="55"/><rect x="828" y="809" width="6" height="8"/><rect x="851" y="827" width="2" height="26"/><rect x="849" y="836" width="6" height="9"/><rect x="865" y="904" width="2" height="56"/><rect x="863" y="918" width="6" height="33"/><rect x="879" y="872" width="2" height="69"/><rect x="877" y="875" width="6" height="45"/><rect x="886" y="852" width="2" height="34"/><rect x="884" y="858" width="6" height="17"/><rect x="893" y="797" width="2" height="78"/><rect x="891" y="828" width="6" height="30"/><rect x="900" y="785" width="2" height="70"/><rect x="898" y="813" width="6" height="14"/><rect x="907" y="752" width="2" height="79"/><rect x="905" y="765" width="6" height="49"/><rect x="928" y="766" width="2" height="34"/><rect x="926" y="769" width="6" height="28"/><rect x="942" y="708" width="2" height="70"/><rect x="940" y="723" width="6" height="54"/><rect x="956" y="690" width="2" height="37"/><rect x="954" y="712" width="6" height="13"/><rect x="963" y="683" width="2" height="49"/><rect x="961" y="706" width="6" height="7"/><rect x="977" y="725" width="2" height="25"/><rect x="975" y="740" width="6" height="4"/><rect x="991" y="724" width="2" height="68"/><rect x="989" y="761" width="6" height="4"/><rect x="1005" y="704" width="2" height="66"/><rect x="1003" y="738" width="6" height="29"/><rect x="1019" y="724" width="2" height="25"/><rect x="1017" y="725" width="6" height="13"/><rect x="1033" y="715" width="2" height="48"/><rect x="1031" y="725" width="6" height="30"/><rect x="1047" y="708" width="2" height="37"/><rect x="1045" y="708" width="6" height="30"/><rect x="1054" y="691" width="2" height="26"/><rect x="1052" y="695" width="6" height="14"/><rect x="1089" y="760" width="2" height="30"/><rect x="1087" y="769" width="6" height="2"/><rect x="1103" y="754" width="2" height="35"/><rect x="1101" y="757" width="6" height="26"/><rect x="1110" y="713" width="2" height="62"/><rect x="1108" y="728" width="6" height="29"/><rect x="1138" y="720" width="2" height="42"/><rect x="1136" y="734" width="6" height="25"/><rect x="1159" y="705" width="2" height="38"/><rect x="1157" y="726" width="6" height="13"/><rect x="1166" y="717" width="2" height="14"/><rect x="1164" y="722" width="6" height="2"/><rect x="1187" y="730" width="2" height="11"/><rect x="1185" y="733" width="6" height="2"/><rect x="1201" y="735" width="2" height="12"/><rect x="1199" y="738" width="6" height="7"/><rect x="1215" y="723" width="2" height="22"/><rect x="1213" y="726" width="6" height="16"/><rect x="1222" y="713" width="2" height="13"/><rect x="1220" y="714" width="6" height="12"/><rect x="1229" y="706" width="2" height="12"/><rect x="1227" y="713" width="6" height="2"/><rect x="1257" y="711" width="2" height="9"/><rect x="1255" y="716" width="6" height="4"/><rect x="1278" y="734" width="2" height="19"/><rect x="1276" y="745" width="6" height="8"/><rect x="1285" y="734" width="2" height="14"/><rect x="1283" y="735" width="6" height="11"/><rect x="1292" y="712" width="2" height="24"/><rect x="1290" y="715" width="6" height="21"/><rect x="1299" y="626" width="2" height="91"/><rect x="1297" y="643" width="6" height="73"/><rect x="1306" y="624" width="2" height="23"/><rect x="1304" y="634" width="6" height="10"/><rect x="1320" y="594" width="2" height="63"/><rect x="1318" y="610" width="6" height="41"/><rect x="1334" y="627" width="2" height="26"/><rect x="1332" y="631" width="6" height="5"/><rect x="1341" y="582" width="2" height="64"/><rect x="1339" y="608" width="6" height="24"/><rect x="1348" y="596" width="2" height="18"/><rect x="1346" y="596" width="6" height="12"/><rect x="1355" y="588" width="2" height="15"/><rect x="1353" y="591" width="6" height="5"/><rect x="1362" y="487" width="2" height="108"/><rect x="1360" y="506" width="6" height="86"/><rect x="1369" y="477" width="2" height="39"/><rect x="1367" y="485" width="6" height="20"/><rect x="1376" y="399" width="2" height="101"/><rect x="1374" y="415" width="6" height="71"/><rect x="1390" y="387" width="2" height="43"/><rect x="1388" y="391" width="6" height="35"/><rect x="1411" y="388" width="2" height="47"/><rect x="1409" y="412" width="6" height="14"/><rect x="1418" y="399" width="2" height="23"/><rect x="1416" y="406" width="6" height="7"/><rect x="1439" y="445" width="2" height="35"/><rect x="1437" y="447" width="6" height="14"/><rect x="1446" y="415" width="2" height="37"/><rect x="1444" y="424" width="6" height="23"/><rect x="1453" y="406" width="2" height="36"/><rect x="1451" y="410" width="6" height="15"/><rect x="1460" y="395" width="2" height="34"/><rect x="1458" y="396" width="6" height="16"/><rect x="1474" y="400" width="2" height="31"/><rect x="1472" y="403" width="6" height="18"/><rect x="1481" y="372" width="2" height="39"/><rect x="1479" y="374" width="6" height="30"/><rect x="1488" y="329" width="2" height="67"/><rect x="1486" y="354" width="6" height="19"/><rect x="1495" y="338" width="2" height="42"/><rect x="1493" y="345" width="6" height="10"/><rect x="1509" y="351" width="2" height="22"/><rect x="1507" y="368" width="6" height="4"/><rect x="1530" y="381" width="2" height="18"/><rect x="1528" y="382" width="6" height="9"/><rect x="1544" y="363" width="2" height="27"/><rect x="1542" y="372" width="6" height="13"/><rect x="1579" y="379" width="2" height="26"/><rect x="1577" y="379" width="6" height="21"/><rect x="1593" y="395" width="2" height="43"/><rect x="1591" y="401" width="6" height="4"/><rect x="1600" y="366" width="2" height="36"/><rect x="1598" y="370" width="6" height="32"/><rect x="1607" y="340" width="2" height="42"/><rect x="1605" y="350" width="6" height="21"/><rect x="1621" y="362" width="2" height="53"/><rect x="1619" y="367" width="6" height="35"/><rect x="1628" y="353" width="2" height="31"/><rect x="1626" y="359" width="6" height="9"/><rect x="1642" y="361" width="2" height="26"/><rect x="1640" y="362" width="6" height="11"/><rect x="1649" y="349" width="2" height="18"/><rect x="1647" y="354" width="6" height="9"/></g>
<line x1="20" y1="357" x2="2216" y2="357" stroke="#2962ff" stroke-width="2" stroke-dasharray="2 4"/>
</g>
<rect x="21" y="1250" width="2326" height="2" fill="#868684" shape-rendering="crispEdges"/>
<rect x="2216" y="54" width="2" height="1251" fill="#868684" shape-rendering="crispEdges"/>
<text x="2233.08" y="257.9" font-size="22" fill="#d6d6d9" stroke="#d6d6d9" stroke-width="0.12" textLength="76.16" lengthAdjust="spacingAndGlyphs">98,000</text>
<text x="2233.08" y="330.2" font-size="22" fill="#d6d6d9" stroke="#d6d6d9" stroke-width="0.12" textLength="76.16" lengthAdjust="spacingAndGlyphs">96,000</text>
<text x="2233.08" y="402.5" font-size="22" fill="#d6d6d9" stroke="#d6d6d9" stroke-width="0.12" textLength="76.16" lengthAdjust="spacingAndGlyphs">94,000</text>
<text x="2233.08" y="474.9" font-size="22" fill="#d6d6d9" stroke="#d6d6d9" stroke-width="0.12" textLength="76.16" lengthAdjust="spacingAndGlyphs">92,000</text>
<text x="2233.08" y="547.2" font-size="22" fill="#d6d6d9" stroke="#d6d6d9" stroke-width="0.12" textLength="76.16" lengthAdjust="spacingAndGlyphs">90,000</text>
<text x="2233.21" y="619.5" font-size="22" fill="#d6d6d9" stroke="#d6d6d9" stroke-width="0.12" textLength="76.03" lengthAdjust="spacingAndGlyphs">88,000</text>
<text x="2233.21" y="691.9" font-size="22" fill="#d6d6d9" stroke="#d6d6d9" stroke-width="0.12" textLength="76.03" lengthAdjust="spacingAndGlyphs">86,000</text>
<text x="2233.21" y="764.2" font-size="22" fill="#d6d6d9" stroke="#d6d6d9" stroke-width="0.12" textLength="76.03" lengthAdjust="spacingAndGlyphs">84,000</text>
<text x="2233.21" y="836.5" font-size="22" fill="#d6d6d9" stroke="#d6d6d9" stroke-width="0.12" textLength="76.03" lengthAdjust="spacingAndGlyphs">82,000</text>
<text x="2233.21" y="908.9" font-size="22" fill="#d6d6d9" stroke="#d6d6d9" stroke-width="0.12" textLength="76.03" lengthAdjust="spacingAndGlyphs">80,000</text>
<text x="2232.95" y="981.2" font-size="22" fill="#d6d6d9" stroke="#d6d6d9" stroke-width="0.12" textLength="76.29" lengthAdjust="spacingAndGlyphs">78,000</text>
<text x="2232.95" y="1053.5" font-size="22" fill="#d6d6d9" stroke="#d6d6d9" stroke-width="0.12" textLength="76.29" lengthAdjust="spacingAndGlyphs">76,000</text>
<text x="2232.95" y="1125.9" font-size="22" fill="#d6d6d9" stroke="#d6d6d9" stroke-width="0.12" textLength="76.29" lengthAdjust="spacingAndGlyphs">74,000</text>
<text x="2232.95" y="1198.2" font-size="22" fill="#d6d6d9" stroke="#d6d6d9" stroke-width="0.12" textLength="76.29" lengthAdjust="spacingAndGlyphs">72,000</text>
<path d="M2218,163H2331a4,4 0 0 1 4,4V191a4,4 0 0 1 -4,4H2218Z" fill="#ffeb3b"/>
<text x="2233.54" y="185" font-size="22" fill="#000" stroke="#000" stroke-width="0.25" textLength="89.73" lengthAdjust="spacingAndGlyphs">100,000</text>
<path d="M2218,341H2337a4,4 0 0 1 4,4V395a4,4 0 0 1 -4,4H2218Z" fill="#2962ff"/>
<text x="2233.08" y="363" font-size="22" fill="#fff" stroke="#fff" stroke-width="0.25" textLength="76.21" lengthAdjust="spacingAndGlyphs">95,082</text>
<text x="2233.33" y="389" font-size="22" fill="#fff" fill-opacity="0.8" textLength="96.42" lengthAdjust="spacingAndGlyphs">03:41:48</text>
<rect x="2224" y="62" width="116" height="52" rx="8" fill="#0f0f0f" stroke="#2e2e2e" stroke-width="2"/>
<text x="2241.81" y="96" font-size="24" fill="#d6d6d9" stroke="#d6d6d9" stroke-width="0.35" textLength="50.29" lengthAdjust="spacingAndGlyphs">USD</text>
<text x="26.46" y="1286" font-size="22" fill="#d6d6d9" stroke="#d6d6d9" stroke-width="0.12" textLength="27.62" lengthAdjust="spacingAndGlyphs">22</text>
<text x="152.46" y="1286" font-size="22" fill="#d6d6d9" stroke="#d6d6d9" stroke-width="0.12" textLength="27.48" lengthAdjust="spacingAndGlyphs">25</text>
<text x="278.46" y="1286" font-size="22" fill="#d6d6d9" stroke="#d6d6d9" stroke-width="0.12" textLength="27.48" lengthAdjust="spacingAndGlyphs">28</text>
<text x="440.07" y="1286" font-size="22" fill="#d6d6d9" font-weight="bold" textLength="40.17" lengthAdjust="spacingAndGlyphs">Apr</text>
<text x="579.83" y="1286" font-size="22" fill="#d6d6d9" stroke="#d6d6d9" stroke-width="0.12" textLength="13.09" lengthAdjust="spacingAndGlyphs">4</text>
<text x="705.85" y="1286" font-size="22" fill="#d6d6d9" stroke="#d6d6d9" stroke-width="0.12" textLength="12.82" lengthAdjust="spacingAndGlyphs">7</text>
<text x="824.44" y="1286" font-size="22" fill="#d6d6d9" stroke="#d6d6d9" stroke-width="0.12" textLength="26.81" lengthAdjust="spacingAndGlyphs">10</text>
<text x="950.49" y="1286" font-size="22" fill="#d6d6d9" stroke="#d6d6d9" stroke-width="0.12" textLength="26.83" lengthAdjust="spacingAndGlyphs">13</text>
<text x="1075.80" y="1286" font-size="22" fill="#d6d6d9" stroke="#d6d6d9" stroke-width="0.12" textLength="28.17" lengthAdjust="spacingAndGlyphs">16</text>
<text x="1201.79" y="1286" font-size="22" fill="#d6d6d9" stroke="#d6d6d9" stroke-width="0.12" textLength="28.31" lengthAdjust="spacingAndGlyphs">19</text>
<text x="1328.46" y="1286" font-size="22" fill="#d6d6d9" stroke="#d6d6d9" stroke-width="0.12" textLength="27.62" lengthAdjust="spacingAndGlyphs">22</text>
<text x="1454.46" y="1286" font-size="22" fill="#d6d6d9" stroke="#d6d6d9" stroke-width="0.12" textLength="27.48" lengthAdjust="spacingAndGlyphs">25</text>
<text x="1580.46" y="1286" font-size="22" fill="#d6d6d9" stroke="#d6d6d9" stroke-width="0.12" textLength="27.48" lengthAdjust="spacingAndGlyphs">28</text>
<text x="1696.56" y="1286" font-size="22" fill="#d6d6d9" font-weight="bold" textLength="45.94" lengthAdjust="spacingAndGlyphs">May</text>
<text x="1839.83" y="1286" font-size="22" fill="#d6d6d9" stroke="#d6d6d9" stroke-width="0.12" textLength="13.09" lengthAdjust="spacingAndGlyphs">4</text>
<text x="1965.85" y="1286" font-size="22" fill="#d6d6d9" stroke="#d6d6d9" stroke-width="0.12" textLength="12.82" lengthAdjust="spacingAndGlyphs">7</text>
<text x="2084.44" y="1286" font-size="22" fill="#d6d6d9" stroke="#d6d6d9" stroke-width="0.12" textLength="26.81" lengthAdjust="spacingAndGlyphs">10</text>
<g>
<circle cx="1657" cy="1174.9" r="22.6" fill="#0f0f0f"/>
<circle cx="1657" cy="1174.9" r="19.85" fill="#0f0f0f" stroke="#b34bd0" stroke-width="2.8"/>
<polygon points="1661.4,1164 1663.1,1165.5 1658,1173.3 1666.2,1174.2 1652.2,1186 1650.3,1184.3 1656,1176.2 1648,1175.1" fill="#b34bd0"/>
<circle cx="1671" cy="1161.1" r="8.7" fill="#0f0f0f"/><circle cx="1671" cy="1161.1" r="5.2" fill="#f23645"/>
<path d="M1636,1172.2 Q1637.3,1180.7 1646,1182 Q1637.3,1183.3 1636,1191.8 Q1634.7,1183.3 1626.1,1182 Q1634.7,1180.7 1636,1172.2Z" fill="#0f0f0f" stroke="#0f0f0f" stroke-width="5.5" stroke-linejoin="round"/>
<path d="M1636,1172.2 Q1637.3,1180.7 1646,1182 Q1637.3,1183.3 1636,1191.8 Q1634.7,1183.3 1626.1,1182 Q1634.7,1180.7 1636,1172.2Z" fill="#7c4dff"/>
</g>
<g transform="translate(1657,1224)">
<circle r="21.5" fill="#f23645"/><circle r="18.5" fill="#0f0f0f"/>
<g clip-path="url(#fc)">
<rect x="-16" y="-16" width="32" height="32" fill="#f5f7fc"/>
<rect x="-16" y="-16" width="32" height="6.4" fill="#ef5350"/>
<rect x="-16" y="-3.4" width="32" height="6.4" fill="#ef5350"/>
<rect x="-16" y="9" width="32" height="7" fill="#ef5350"/>
<rect x="-16" y="-16" width="19.5" height="19" fill="#1e88e5"/>
<polygon points="-11.00,-13.60 -10.47,-12.23 -9.00,-12.15 -10.14,-11.22 -9.77,-9.80 -11.00,-10.60 -12.23,-9.80 -11.86,-11.22 -13.00,-12.15 -11.53,-12.23" fill="#fff"/>
<polygon points="-6.00,-13.60 -5.47,-12.23 -4.00,-12.15 -5.14,-11.22 -4.77,-9.80 -6.00,-10.60 -7.23,-9.80 -6.86,-11.22 -8.00,-12.15 -6.53,-12.23" fill="#fff"/>
<polygon points="-0.80,-13.60 -0.27,-12.23 1.20,-12.15 0.06,-11.22 0.43,-9.80 -0.80,-10.60 -2.03,-9.80 -1.66,-11.22 -2.80,-12.15 -1.33,-12.23" fill="#fff"/>
<polygon points="-11.00,-8.60 -10.47,-7.23 -9.00,-7.15 -10.14,-6.22 -9.77,-4.80 -11.00,-5.60 -12.23,-4.80 -11.86,-6.22 -13.00,-7.15 -11.53,-7.23" fill="#fff"/>
<polygon points="-6.00,-8.60 -5.47,-7.23 -4.00,-7.15 -5.14,-6.22 -4.77,-4.80 -6.00,-5.60 -7.23,-4.80 -6.86,-6.22 -8.00,-7.15 -6.53,-7.23" fill="#fff"/>
<polygon points="-0.80,-8.60 -0.27,-7.23 1.20,-7.15 0.06,-6.22 0.43,-4.80 -0.80,-5.60 -2.03,-4.80 -1.66,-6.22 -2.80,-7.15 -1.33,-7.23" fill="#fff"/>
<polygon points="-11.00,-3.40 -10.47,-2.03 -9.00,-1.95 -10.14,-1.02 -9.77,0.40 -11.00,-0.40 -12.23,0.40 -11.86,-1.02 -13.00,-1.95 -11.53,-2.03" fill="#fff"/>
<polygon points="-6.00,-3.40 -5.47,-2.03 -4.00,-1.95 -5.14,-1.02 -4.77,0.40 -6.00,-0.40 -7.23,0.40 -6.86,-1.02 -8.00,-1.95 -6.53,-2.03" fill="#fff"/>
<polygon points="-0.80,-3.40 -0.27,-2.03 1.20,-1.95 0.06,-1.02 0.43,0.40 -0.80,-0.40 -2.03,0.40 -1.66,-1.02 -2.80,-1.95 -1.33,-2.03" fill="#fff"/>
</g></g>
<g transform="translate(1699,1224)">
<circle r="21.5" fill="#f23645"/><circle r="18.5" fill="#0f0f0f"/>
<g clip-path="url(#fc)">
<rect x="-16" y="-16" width="32" height="32" fill="#f5f7fc"/>
<rect x="-16" y="-16" width="32" height="6.4" fill="#ef5350"/>
<rect x="-16" y="-3.4" width="32" height="6.4" fill="#ef5350"/>
<rect x="-16" y="9" width="32" height="7" fill="#ef5350"/>
<rect x="-16" y="-16" width="19.5" height="19" fill="#1e88e5"/>
<polygon points="-11.00,-13.60 -10.47,-12.23 -9.00,-12.15 -10.14,-11.22 -9.77,-9.80 -11.00,-10.60 -12.23,-9.80 -11.86,-11.22 -13.00,-12.15 -11.53,-12.23" fill="#fff"/>
<polygon points="-6.00,-13.60 -5.47,-12.23 -4.00,-12.15 -5.14,-11.22 -4.77,-9.80 -6.00,-10.60 -7.23,-9.80 -6.86,-11.22 -8.00,-12.15 -6.53,-12.23" fill="#fff"/>
<polygon points="-0.80,-13.60 -0.27,-12.23 1.20,-12.15 0.06,-11.22 0.43,-9.80 -0.80,-10.60 -2.03,-9.80 -1.66,-11.22 -2.80,-12.15 -1.33,-12.23" fill="#fff"/>
<polygon points="-11.00,-8.60 -10.47,-7.23 -9.00,-7.15 -10.14,-6.22 -9.77,-4.80 -11.00,-5.60 -12.23,-4.80 -11.86,-6.22 -13.00,-7.15 -11.53,-7.23" fill="#fff"/>
<polygon points="-6.00,-8.60 -5.47,-7.23 -4.00,-7.15 -5.14,-6.22 -4.77,-4.80 -6.00,-5.60 -7.23,-4.80 -6.86,-6.22 -8.00,-7.15 -6.53,-7.23" fill="#fff"/>
<polygon points="-0.80,-8.60 -0.27,-7.23 1.20,-7.15 0.06,-6.22 0.43,-4.80 -0.80,-5.60 -2.03,-4.80 -1.66,-6.22 -2.80,-7.15 -1.33,-7.23" fill="#fff"/>
<polygon points="-11.00,-3.40 -10.47,-2.03 -9.00,-1.95 -10.14,-1.02 -9.77,0.40 -11.00,-0.40 -12.23,0.40 -11.86,-1.02 -13.00,-1.95 -11.53,-2.03" fill="#fff"/>
<polygon points="-6.00,-3.40 -5.47,-2.03 -4.00,-1.95 -5.14,-1.02 -4.77,0.40 -6.00,-0.40 -7.23,0.40 -6.86,-1.02 -8.00,-1.95 -6.53,-2.03" fill="#fff"/>
<polygon points="-0.80,-3.40 -0.27,-2.03 1.20,-1.95 0.06,-1.02 0.43,0.40 -0.80,-0.40 -2.03,0.40 -1.66,-1.02 -2.80,-1.95 -1.33,-2.03" fill="#fff"/>
</g></g>
<g transform="translate(1741,1224)">
<circle r="21.5" fill="#f23645"/><circle r="18.5" fill="#0f0f0f"/>
<g clip-path="url(#fc)">
<rect x="-16" y="-16" width="32" height="32" fill="#f5f7fc"/>
<rect x="-16" y="-16" width="32" height="6.4" fill="#ef5350"/>
<rect x="-16" y="-3.4" width="32" height="6.4" fill="#ef5350"/>
<rect x="-16" y="9" width="32" height="7" fill="#ef5350"/>
<rect x="-16" y="-16" width="19.5" height="19" fill="#1e88e5"/>
<polygon points="-11.00,-13.60 -10.47,-12.23 -9.00,-12.15 -10.14,-11.22 -9.77,-9.80 -11.00,-10.60 -12.23,-9.80 -11.86,-11.22 -13.00,-12.15 -11.53,-12.23" fill="#fff"/>
<polygon points="-6.00,-13.60 -5.47,-12.23 -4.00,-12.15 -5.14,-11.22 -4.77,-9.80 -6.00,-10.60 -7.23,-9.80 -6.86,-11.22 -8.00,-12.15 -6.53,-12.23" fill="#fff"/>
<polygon points="-0.80,-13.60 -0.27,-12.23 1.20,-12.15 0.06,-11.22 0.43,-9.80 -0.80,-10.60 -2.03,-9.80 -1.66,-11.22 -2.80,-12.15 -1.33,-12.23" fill="#fff"/>
<polygon points="-11.00,-8.60 -10.47,-7.23 -9.00,-7.15 -10.14,-6.22 -9.77,-4.80 -11.00,-5.60 -12.23,-4.80 -11.86,-6.22 -13.00,-7.15 -11.53,-7.23" fill="#fff"/>
<polygon points="-6.00,-8.60 -5.47,-7.23 -4.00,-7.15 -5.14,-6.22 -4.77,-4.80 -6.00,-5.60 -7.23,-4.80 -6.86,-6.22 -8.00,-7.15 -6.53,-7.23" fill="#fff"/>
<polygon points="-0.80,-8.60 -0.27,-7.23 1.20,-7.15 0.06,-6.22 0.43,-4.80 -0.80,-5.60 -2.03,-4.80 -1.66,-6.22 -2.80,-7.15 -1.33,-7.23" fill="#fff"/>
<polygon points="-11.00,-3.40 -10.47,-2.03 -9.00,-1.95 -10.14,-1.02 -9.77,0.40 -11.00,-0.40 -12.23,0.40 -11.86,-1.02 -13.00,-1.95 -11.53,-2.03" fill="#fff"/>
<polygon points="-6.00,-3.40 -5.47,-2.03 -4.00,-1.95 -5.14,-1.02 -4.77,0.40 -6.00,-0.40 -7.23,0.40 -6.86,-1.02 -8.00,-1.95 -6.53,-2.03" fill="#fff"/>
<polygon points="-0.80,-3.40 -0.27,-2.03 1.20,-1.95 0.06,-1.02 0.43,0.40 -0.80,-0.40 -2.03,0.40 -1.66,-1.02 -2.80,-1.95 -1.33,-2.03" fill="#fff"/>
</g></g>
<g transform="translate(1783,1224)">
<circle r="21.5" fill="#f23645"/><circle r="18.5" fill="#0f0f0f"/>
<g clip-path="url(#fc)">
<rect x="-16" y="-16" width="32" height="32" fill="#f5f7fc"/>
<rect x="-16" y="-16" width="32" height="6.4" fill="#ef5350"/>
<rect x="-16" y="-3.4" width="32" height="6.4" fill="#ef5350"/>
<rect x="-16" y="9" width="32" height="7" fill="#ef5350"/>
<rect x="-16" y="-16" width="19.5" height="19" fill="#1e88e5"/>
<polygon points="-11.00,-13.60 -10.47,-12.23 -9.00,-12.15 -10.14,-11.22 -9.77,-9.80 -11.00,-10.60 -12.23,-9.80 -11.86,-11.22 -13.00,-12.15 -11.53,-12.23" fill="#fff"/>
<polygon points="-6.00,-13.60 -5.47,-12.23 -4.00,-12.15 -5.14,-11.22 -4.77,-9.80 -6.00,-10.60 -7.23,-9.80 -6.86,-11.22 -8.00,-12.15 -6.53,-12.23" fill="#fff"/>
<polygon points="-0.80,-13.60 -0.27,-12.23 1.20,-12.15 0.06,-11.22 0.43,-9.80 -0.80,-10.60 -2.03,-9.80 -1.66,-11.22 -2.80,-12.15 -1.33,-12.23" fill="#fff"/>
<polygon points="-11.00,-8.60 -10.47,-7.23 -9.00,-7.15 -10.14,-6.22 -9.77,-4.80 -11.00,-5.60 -12.23,-4.80 -11.86,-6.22 -13.00,-7.15 -11.53,-7.23" fill="#fff"/>
<polygon points="-6.00,-8.60 -5.47,-7.23 -4.00,-7.15 -5.14,-6.22 -4.77,-4.80 -6.00,-5.60 -7.23,-4.80 -6.86,-6.22 -8.00,-7.15 -6.53,-7.23" fill="#fff"/>
<polygon points="-0.80,-8.60 -0.27,-7.23 1.20,-7.15 0.06,-6.22 0.43,-4.80 -0.80,-5.60 -2.03,-4.80 -1.66,-6.22 -2.80,-7.15 -1.33,-7.23" fill="#fff"/>
<polygon points="-11.00,-3.40 -10.47,-2.03 -9.00,-1.95 -10.14,-1.02 -9.77,0.40 -11.00,-0.40 -12.23,0.40 -11.86,-1.02 -13.00,-1.95 -11.53,-2.03" fill="#fff"/>
<polygon points="-6.00,-3.40 -5.47,-2.03 -4.00,-1.95 -5.14,-1.02 -4.77,0.40 -6.00,-0.40 -7.23,0.40 -6.86,-1.02 -8.00,-1.95 -6.53,-2.03" fill="#fff"/>
<polygon points="-0.80,-3.40 -0.27,-2.03 1.20,-1.95 0.06,-1.02 0.43,0.40 -0.80,-0.40 -2.03,0.40 -1.66,-1.02 -2.80,-1.95 -1.33,-2.03" fill="#fff"/>
</g></g>
<text xml:space="preserve"><tspan x="19.86" y="40" font-size="24" fill="#d9d9d9" stroke="#d9d9d9" stroke-width="0.35" textLength="150.24" lengthAdjust="spacingAndGlyphs">svillafuerte21</tspan> <tspan x="176.46" y="40" font-size="24" fill="#d9d9d9" stroke="#d9d9d9" stroke-width="0.35" textLength="110.23" lengthAdjust="spacingAndGlyphs">published</tspan> <tspan x="294.08" y="40" font-size="24" fill="#d9d9d9" stroke="#d9d9d9" stroke-width="0.35" textLength="28.41" lengthAdjust="spacingAndGlyphs">on</tspan> <tspan x="330.00" y="40" font-size="24" fill="#d9d9d9" stroke="#d9d9d9" stroke-width="0.35" textLength="197.50" lengthAdjust="spacingAndGlyphs">TradingView.com,</tspan> <tspan x="537.10" y="40" font-size="24" fill="#d9d9d9" stroke="#d9d9d9" stroke-width="0.35" textLength="38.38" lengthAdjust="spacingAndGlyphs">Apr</tspan> <tspan x="582.50" y="40" font-size="24" fill="#d9d9d9" stroke="#d9d9d9" stroke-width="0.35" textLength="36.26" lengthAdjust="spacingAndGlyphs">29,</tspan> <tspan x="624.77" y="40" font-size="24" fill="#d9d9d9" stroke="#d9d9d9" stroke-width="0.35" textLength="59.19" lengthAdjust="spacingAndGlyphs">2025</tspan> <tspan x="690.66" y="40" font-size="24" fill="#d9d9d9" stroke="#d9d9d9" stroke-width="0.35" textLength="58.02" lengthAdjust="spacingAndGlyphs">12:18</tspan> <tspan x="756.28" y="40" font-size="24" fill="#d9d9d9" stroke="#d9d9d9" stroke-width="0.35" textLength="49.88" lengthAdjust="spacingAndGlyphs">UTC</tspan></text>
<text xml:space="preserve"><tspan x="35.14" y="94" font-size="24" fill="#d6d6d9" stroke="#d6d6d9" stroke-width="0.35" textLength="79.08" lengthAdjust="spacingAndGlyphs">Bitcoin</tspan> <tspan x="120.40" y="94" font-size="24" fill="#d6d6d9" stroke="#d6d6d9" stroke-width="0.35" textLength="8.14" lengthAdjust="spacingAndGlyphs">/</tspan> <tspan x="133.41" y="94" font-size="24" fill="#d6d6d9" stroke="#d6d6d9" stroke-width="0.35" textLength="49.06" lengthAdjust="spacingAndGlyphs">U.S.</tspan> <tspan x="187.17" y="94" font-size="24" fill="#d6d6d9" stroke="#d6d6d9" stroke-width="0.35" textLength="66.44" lengthAdjust="spacingAndGlyphs">Dollar</tspan> <tspan x="259.06" y="96.6" font-size="36" fill="#d6d6d9">·</tspan> <tspan x="275.16" y="94" font-size="24" fill="#d6d6d9" stroke="#d6d6d9" stroke-width="0.35" textLength="29.81" lengthAdjust="spacingAndGlyphs">4h</tspan> <tspan x="308.66" y="96.6" font-size="36" fill="#d6d6d9">·</tspan> <tspan x="324.57" y="94" font-size="24" fill="#d6d6d9" stroke="#d6d6d9" stroke-width="0.35" textLength="118.87" lengthAdjust="spacingAndGlyphs">BITSTAMP</tspan> <tspan x="456.16" y="94" font-size="24" fill="#d6d6d9" stroke="#d6d6d9" stroke-width="0.35" textLength="19.64" lengthAdjust="spacingAndGlyphs">O</tspan> <tspan x="475.27" y="94" font-size="24" fill="#2962ff" stroke="#2962ff" stroke-width="0.35" textLength="76.90" lengthAdjust="spacingAndGlyphs">95,163</tspan> <tspan x="564.86" y="94" font-size="24" fill="#d6d6d9" stroke="#d6d6d9" stroke-width="0.35" textLength="21.09" lengthAdjust="spacingAndGlyphs">H</tspan> <tspan x="583.87" y="94" font-size="24" fill="#2962ff" stroke="#2962ff" stroke-width="0.35" textLength="76.72" lengthAdjust="spacingAndGlyphs">95,201</tspan> <tspan x="673.36" y="94" font-size="24" fill="#d6d6d9" stroke="#d6d6d9" stroke-width="0.35" textLength="14.87" lengthAdjust="spacingAndGlyphs">L</tspan> <tspan x="687.65" y="94" font-size="24" fill="#2962ff" stroke="#2962ff" stroke-width="0.35" textLength="78.45" lengthAdjust="spacingAndGlyphs">95,078</tspan> <tspan x="779.89" y="94" font-size="24" fill="#d6d6d9" stroke="#d6d6d9" stroke-width="0.35" textLength="17.51" lengthAdjust="spacingAndGlyphs">C</tspan> <tspan x="797.22" y="94" font-size="24" fill="#2962ff" stroke="#2962ff" stroke-width="0.35" textLength="80.23" lengthAdjust="spacingAndGlyphs">95,082</tspan> <tspan x="891.18" y="94" font-size="24" fill="#2962ff" stroke="#2962ff" stroke-width="0.35" textLength="42.17" lengthAdjust="spacingAndGlyphs">−81</tspan> <tspan x="939.96" y="94" font-size="24" fill="#2962ff" stroke="#2962ff" stroke-width="0.35" textLength="104.87" lengthAdjust="spacingAndGlyphs">(−0.09%)</tspan></text>
<g fill="#d6d6d9"><circle cx="265" cy="86.6" r="2"/><circle cx="314.6" cy="86.6" r="2"/><circle cx="81.9" cy="120.6" r="2"/></g>
<text xml:space="preserve"><tspan x="37.25" y="128" font-size="24" fill="#d6d6d9" stroke="#d6d6d9" stroke-width="0.35" textLength="34.13" lengthAdjust="spacingAndGlyphs">Vol</tspan> <tspan x="75.96" y="130.6" font-size="36" fill="#d6d6d9">·</tspan> <tspan x="91.61" y="128" font-size="24" fill="#d6d6d9" stroke="#d6d6d9" stroke-width="0.35" textLength="47.22" lengthAdjust="spacingAndGlyphs">BTC</tspan> <tspan x="153.49" y="128" font-size="24" fill="#ef5350" stroke="#ef5350" stroke-width="0.35" textLength="14.29" lengthAdjust="spacingAndGlyphs">4</tspan></text>
<text xml:space="preserve"><tspan x="35.62" y="162" font-size="24" fill="#d6d6d9" stroke="#d6d6d9" stroke-width="0.35" textLength="51.93" lengthAdjust="spacingAndGlyphs">SMA</tspan> <tspan x="96.13" y="162" font-size="24" fill="#d6d6d9" stroke="#d6d6d9" stroke-width="0.35" textLength="59.71" lengthAdjust="spacingAndGlyphs">(200,</tspan> <tspan x="161.47" y="162" font-size="24" fill="#d6d6d9" stroke="#d6d6d9" stroke-width="0.35" textLength="68.82" lengthAdjust="spacingAndGlyphs">close)</tspan> <tspan x="244.65" y="162" font-size="24" fill="#ffeb3b" stroke="#ffeb3b" stroke-width="0.35" textLength="80.09" lengthAdjust="spacingAndGlyphs">85,647</tspan></text>
<text xml:space="preserve"><tspan x="35.35" y="196" font-size="24" fill="#d6d6d9" stroke="#d6d6d9" stroke-width="0.35" textLength="51.50" lengthAdjust="spacingAndGlyphs">EMA</tspan> <tspan x="95.02" y="196" font-size="24" fill="#d6d6d9" stroke="#d6d6d9" stroke-width="0.35" textLength="59.93" lengthAdjust="spacingAndGlyphs">(200,</tspan> <tspan x="160.57" y="196" font-size="24" fill="#d6d6d9" stroke="#d6d6d9" stroke-width="0.35" textLength="68.51" lengthAdjust="spacingAndGlyphs">close)</tspan> <tspan x="243.79" y="196" font-size="24" fill="#4caf50" stroke="#4caf50" stroke-width="0.35" textLength="76.90" lengthAdjust="spacingAndGlyphs">87,847</tspan></text>
<g fill="#d9d9d9">
<path d="M19.7,1330H36.2V1349.8H27.3V1338.3H19.7Z"/>
<circle cx="42" cy="1334.2" r="4.2"/>
<path d="M49,1330H59.1L51,1349.8H41.2Z"/>
<text x="66.66" y="1351" font-size="26" fill="#d9d9d9" stroke="#d9d9d9" stroke-width="0.6" textLength="148.19" lengthAdjust="spacingAndGlyphs">TradingView</text>
</g>
</svg>
</body></html>
